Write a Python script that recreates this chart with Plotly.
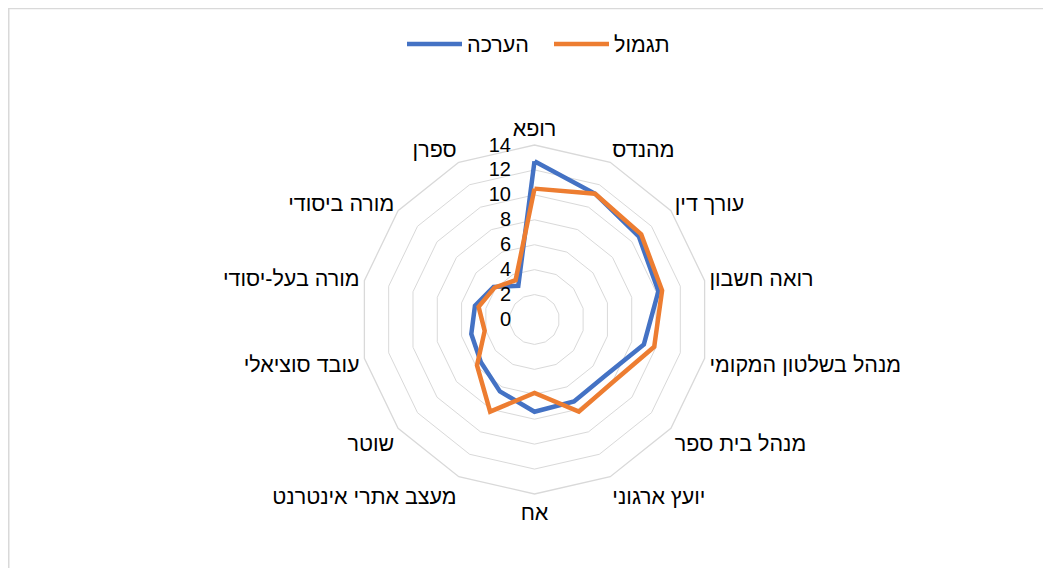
import plotly.graph_objects as go

categories = ["רופא", "מהנדס", "עורך דין", "רואה חשבון", "מנהל בשלטון המקומי",
              "מנהל בית ספר", "יועץ ארגוני", "אח", "מעצב אתרי אינטרנט", "שוטר",
              "עובד סוציאלי", "מורה בעל-יסודי", "מורה ביסודי", "ספרן"]
assessment = [12.7, 11.2, 10.7, 10.2, 9.0, 7.25, 7.3, 7.4, 6.4, 5.5, 5.2, 4.9, 4.2, 3.0]
reward = [10.5, 11.2, 10.95, 10.5, 9.85, 8.05, 8.2, 5.9, 8.2, 5.9, 4.1, 4.6, 4.1, 3.5]
series_names = ["הערכה", "תגמול"]
radial_ticks = [0, 2, 4, 6, 8, 10, 12, 14]

W, H = 1051, 568
FONT = "Liberation Sans, Arial, sans-serif"

fig = go.Figure()
for name, vals, color in [(series_names[0], assessment, "#4472C4"),
                          (series_names[1], reward, "#ED7D31")]:
    fig.add_trace(go.Scatterpolar(
        r=vals + vals[:1], theta=categories + categories[:1],
        mode="lines", name=name,
        line=dict(color=color, width=4.5),
    ))

# page has an 8px body margin; positions below are in figure pixels
cx, cy, R = 526.5, 311.5, 174.5
fig.update_layout(
    width=W, height=H,
    margin=dict(l=0, r=0, t=0, b=0),
    paper_bgcolor="white",
    font=dict(family=FONT, size=21, color="#000000"),
    showlegend=True,
    legend=dict(orientation="h", x=541 / W, xanchor="center",
                y=1 - 36 / H, yanchor="middle",
                font=dict(family=FONT, size=21.5), itemwidth=55,
                entrywidth=77, entrywidthmode="pixels"),
    polar=dict(
        domain=dict(x=[(cx - R) / W, (cx + R) / W],
                    y=[(H - cy - R) / H, (H - cy + R) / H]),
        bgcolor="white",
        gridshape="linear",
        angularaxis=dict(direction="clockwise", rotation=90,
                         showgrid=False, showline=True, linecolor="#d9d9d9",
                         linewidth=1.3, ticks="", tickfont=dict(size=21.5)),
        radialaxis=dict(range=[0, 14], tickvals=radial_ticks, angle=90,
                        showline=False, gridcolor="#d9d9d9", gridwidth=1.3,
                        ticks="outside", ticklen=16, tickcolor="rgba(0,0,0,0)",
                        tickangle=90, side="counterclockwise",
                        tickfont=dict(size=20)),
    ),
    shapes=[
        dict(type="line", xref="paper", yref="paper", x0=0, x1=1.0,
             y0=1 - 0.5 / H, y1=1 - 0.5 / H, line=dict(color="#d9d9d9", width=1.5)),
        dict(type="line", xref="paper", yref="paper", x0=0.5 / W, x1=0.5 / W,
             y0=0, y1=1, line=dict(color="#d9d9d9", width=2)),
    ],
)

fig.write_html("out.html")
